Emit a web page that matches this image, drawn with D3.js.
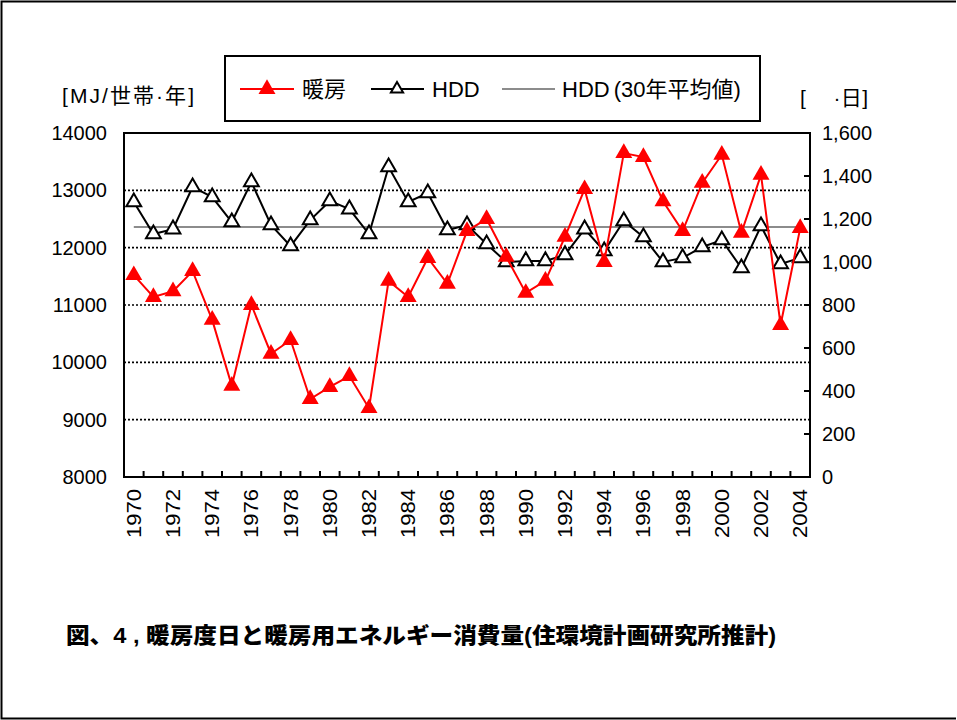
<!DOCTYPE html>
<html>
<head>
<meta charset="utf-8">
<script src="https://cdn.jsdelivr.net/npm/d3@7"></script>
<style>
body { margin: 0; background: #fff; }
text { font-family: "Liberation Sans", Arial, "Noto Sans CJK JP", sans-serif; }
.cjk { font-family: "Liberation Sans", "Noto Sans CJK JP", sans-serif; }
</style>
</head>
<body>
<svg width="957" height="720"></svg>
<script>
// data
var years = d3.range(1970, 2005);
var heating = [11520, 11140, 11240, 11590, 10740, 9590, 11000, 10150, 10390, 9360,
               9570, 9760, 9200, 11420, 11140, 11820, 11370, 12290, 12500, 11840,
               11210, 11420, 12190, 13020, 11750, 13650, 13580, 12810, 12290, 13130,
               13620, 12260, 13270, 10650, 12340];
var hdd = [1279, 1130, 1153, 1349, 1302, 1186, 1372, 1172, 1074, 1195,
           1284, 1246, 1130, 1442, 1279, 1321, 1149, 1172, 1084, 1000,
           1005, 1005, 1033, 1153, 1051, 1191, 1116, 1000, 1019, 1070,
           1102, 972, 1167, 991, 1019];
var hddAvg = 1163;
var leftTicks = [8000, 9000, 10000, 11000, 12000, 13000, 14000];
var rightTicks = [0, 200, 400, 600, 800, 1000, 1200, 1400, 1600];
var yearLabels = years.filter(function(y){ return y % 2 == 0 });

var svg = d3.select("svg");

// "top" is taken by window.top, so use other names
var pLeft = 124, pRight = 810, pTop = 133, pBottom = 477;

var x = d3.scaleBand().domain(years).range([pLeft, pRight]);
var yL = d3.scaleLinear().domain([8000, 14000]).range([pBottom, pTop]);
var yR = d3.scaleLinear().domain([0, 1600]).range([pBottom, pTop]);
var cx = function(d){ return x(d) + x.bandwidth()/2 };

// outer frame (no right edge visible)
svg.append("path")
  .attr("d", "M956,1.5 H1.5 V718.5 H956")
  .attr("fill", "none").attr("stroke", "#000").attr("stroke-width", 2);

// gridlines
svg.append("g").selectAll("line")
  .data(leftTicks.slice(1, -1))
  .join("line")
  .attr("x1", pLeft).attr("x2", pRight)
  .attr("y1", yL).attr("y2", yL)
  .attr("stroke", "#000").attr("stroke-width", 1.6)
  .attr("stroke-dasharray", "2,2");

// left axis
var gL = svg.append("g").attr("transform", "translate(" + pLeft + ",0)")
  .call(d3.axisLeft(yL).tickValues(leftTicks).tickSize(0).tickPadding(17).tickFormat(d3.format("d")));
gL.select(".domain").remove();
gL.selectAll("text").attr("font-size", 20).attr("fill", "#000")
  .attr("font-family", "Liberation Sans, Arial, sans-serif");

// right axis, ticks inside
var gR = svg.append("g").attr("transform", "translate(" + pRight + ",0)")
  .call(d3.axisRight(yR).tickValues(rightTicks).tickSize(0).tickPadding(12).tickFormat(d3.format(",")));
gR.select(".domain").remove();
gR.selectAll("text").attr("font-size", 20).attr("fill", "#000")
  .attr("font-family", "Liberation Sans, Arial, sans-serif");
svg.append("g").selectAll("line")
  .data(rightTicks)
  .join("line")
  .attr("x1", pRight - 6).attr("x2", pRight)
  .attr("y1", yR).attr("y2", yR)
  .attr("stroke", "#000").attr("stroke-width", 2);

// bottom ticks on category boundaries, pointing up
svg.append("g").selectAll("line")
  .data(years.slice(1))
  .join("line")
  .attr("x1", function(d){ return x(d) }).attr("x2", function(d){ return x(d) })
  .attr("y1", pBottom).attr("y2", pBottom - 6)
  .attr("stroke", "#000").attr("stroke-width", 2);

// year labels
svg.append("g").selectAll("text")
  .data(yearLabels)
  .join("text")
  .attr("transform", function(d){ return "translate(" + (cx(d) + 7) + "," + (pBottom + 12) + ") rotate(-90)" })
  .attr("text-anchor", "end")
  .attr("font-size", 20)
  .attr("textLength", 49).attr("lengthAdjust", "spacingAndGlyphs")
  .text(function(d){ return d });

// plot frame
svg.append("rect")
  .attr("x", pLeft).attr("y", pTop)
  .attr("width", pRight - pLeft).attr("height", pBottom - pTop)
  .attr("fill", "none").attr("stroke", "#000").attr("stroke-width", 2);

// average line
svg.append("line")
  .attr("x1", cx(1970)).attr("x2", cx(2004))
  .attr("y1", yR(hddAvg)).attr("y2", yR(hddAvg))
  .attr("stroke", "#8c8c8c").attr("stroke-width", 2);

var tri = d3.symbol().type(d3.symbolTriangle);

// HDD series
svg.append("path")
  .datum(hdd)
  .attr("fill", "none").attr("stroke", "#000").attr("stroke-width", 2)
  .attr("d", d3.line().x(function(d, i){ return cx(years[i]) }).y(function(d){ return yR(d) }));
svg.append("g").selectAll("path")
  .data(hdd)
  .join("path")
  .attr("transform", function(d, i){ return "translate(" + cx(years[i]) + "," + yR(d) + ")" })
  .attr("d", tri.size(95))
  .attr("fill", "#fff").attr("stroke", "#000").attr("stroke-width", 2);

// heating series
svg.append("path")
  .datum(heating)
  .attr("fill", "none").attr("stroke", "#ff0000").attr("stroke-width", 2)
  .attr("d", d3.line().x(function(d, i){ return cx(years[i]) }).y(function(d){ return yL(d) }));
svg.append("g").selectAll("path")
  .data(heating)
  .join("path")
  .attr("transform", function(d, i){ return "translate(" + cx(years[i]) + "," + yL(d) + ")" })
  .attr("d", tri.size(125))
  .attr("fill", "#ff0000");

// axis titles
svg.append("text").attr("class", "cjk")
  .attr("x", 62).attr("y", 103).attr("font-size", 21)
  .attr("textLength", 132).attr("lengthAdjust", "spacing")
  .text("[MJ/世帯·年]");
svg.append("text").attr("class", "cjk")
  .attr("x", 800).attr("y", 105).attr("font-size", 21)
  .attr("xml:space", "preserve")
  .attr("textLength", 68).attr("lengthAdjust", "spacing")
  .text("[　 ·日]");

// legend
var lg = svg.append("g");
lg.append("rect").attr("x", 225).attr("y", 56).attr("width", 535).attr("height", 65)
  .attr("fill", "#fff").attr("stroke", "#000").attr("stroke-width", 2);
var ly = 89;
lg.append("line").attr("x1", 240).attr("x2", 294).attr("y1", ly).attr("y2", ly)
  .attr("stroke", "#ff0000").attr("stroke-width", 2);
lg.append("path").attr("transform", "translate(267," + ly + ")").attr("d", tri.size(125)).attr("fill", "#ff0000");
lg.append("text").attr("class", "cjk").attr("x", 302).attr("y", ly + 8).attr("font-size", 22).text("暖房");
lg.append("line").attr("x1", 371).attr("x2", 424).attr("y1", ly).attr("y2", ly)
  .attr("stroke", "#000").attr("stroke-width", 2);
lg.append("path").attr("transform", "translate(397," + ly + ")").attr("d", tri.size(65))
  .attr("fill", "#fff").attr("stroke", "#000").attr("stroke-width", 2);
lg.append("text").attr("x", 432).attr("y", ly + 8).attr("font-size", 22).text("HDD");
lg.append("line").attr("x1", 502).attr("x2", 555).attr("y1", ly).attr("y2", ly)
  .attr("stroke", "#8c8c8c").attr("stroke-width", 2);
var lt = lg.append("text").attr("class", "cjk").attr("x", 562).attr("y", ly + 8).attr("font-size", 22);
lt.append("tspan").text("HDD");
lt.append("tspan").attr("dx", 4).text("(30年平均値)");

// caption
svg.append("text")
  .attr("x", 66).attr("y", 643)
  .attr("font-family", "Noto Sans CJK JP")
  .attr("font-weight", 900)
  .attr("font-size", 22)
  .attr("textLength", 710).attr("lengthAdjust", "spacingAndGlyphs")
  .text("図、4 , 暖房度日と暖房用エネルギー消費量(住環境計画研究所推計)");
</script>
</body>
</html>
